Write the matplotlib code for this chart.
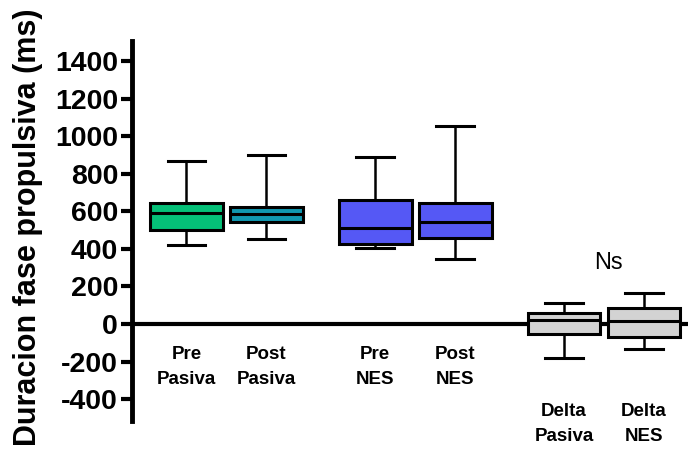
import matplotlib
matplotlib.use("Agg")
import matplotlib.pyplot as plt

plt.rcParams['font.family'] = ['Liberation Sans', 'DejaVu Sans']

# Data (ms)
groups = ["Pre\nPasiva", "Post\nPasiva", "Pre\nNES", "Post\nNES", "Delta\nPasiva", "Delta\nNES"]
whisker_low = [419, 451, 404, 346, -179, -135]
q1_vals = [502, 545, 427, 458, -52, -71]
median_vals = [591, 587, 509, 543, 21, 14]
q3_vals = [646, 623, 662, 644, 60, 85]
whisker_high = [869, 899, 887, 1054, 112, 165]
y_ticks = [-400, -200, 0, 200, 400, 600, 800, 1000, 1200, 1400]
annotation = "Ns"

colors = ["#05C078", "#1198B0", "#5558F5", "#5558F5", "#D3D3D3", "#D3D3D3"]
positions = [1, 2, 3.36, 4.36, 5.72, 6.72]

fig = plt.figure(figsize=(6.91, 4.53), dpi=100)
ax = fig.add_axes([0.191, 0.0706, 0.8047, 0.8389])

stats = []
for i, g in enumerate(groups):
    stats.append(dict(label=g, whislo=whisker_low[i], q1=q1_vals[i], med=median_vals[i],
                      q3=q3_vals[i], whishi=whisker_high[i], fliers=[]))

bp = ax.bxp(stats, positions=positions, widths=0.91, patch_artist=True, showfliers=False,
            boxprops=dict(linewidth=2.2, edgecolor='black'),
            medianprops=dict(color='black', linewidth=2.2),
            whiskerprops=dict(color='black', linewidth=1.8),
            capprops=dict(color='black', linewidth=2.2),
            capwidths=0.47)
for patch, c in zip(bp['boxes'], colors):
    patch.set_facecolor(c)
    patch.set_zorder(3)
for k in ('medians', 'whiskers', 'caps'):
    for l in bp[k]:
        l.set_zorder(4)

ax.axhline(0, color='black', linewidth=3, zorder=2)

ax.set_xlim(positions[0] - 0.68, positions[-1] + 0.55)
ax.set_ylim(-516, 1506)
ax.set_yticks(y_ticks)
ax.set_yticklabels([str(t) for t in y_ticks], fontsize=20.5, fontweight='bold')
ax.tick_params(axis='y', length=8, width=3, pad=2)
ax.set_xticks([])
for s in ('top', 'right', 'bottom'):
    ax.spines[s].set_visible(False)
ax.spines['left'].set_linewidth(3.5)

ax.set_ylabel("Duracion fase propulsiva (ms)", fontsize=22, fontweight='bold')
ax.yaxis.set_label_coords(-0.160, 0.51)

# group labels
for i, g in enumerate(groups):
    if i < 4:
        yv = -230
    else:
        yv = -530
    ax.text(positions[i], yv, g, ha='center', va='center', fontsize=13.5,
            fontweight='bold', linespacing=1.6, clip_on=False)

ax.text((positions[4] + positions[5]) / 2 + 0.05, 325, annotation, ha='center', va='center',
        fontsize=17)

fig.savefig("out.png", dpi=100)
